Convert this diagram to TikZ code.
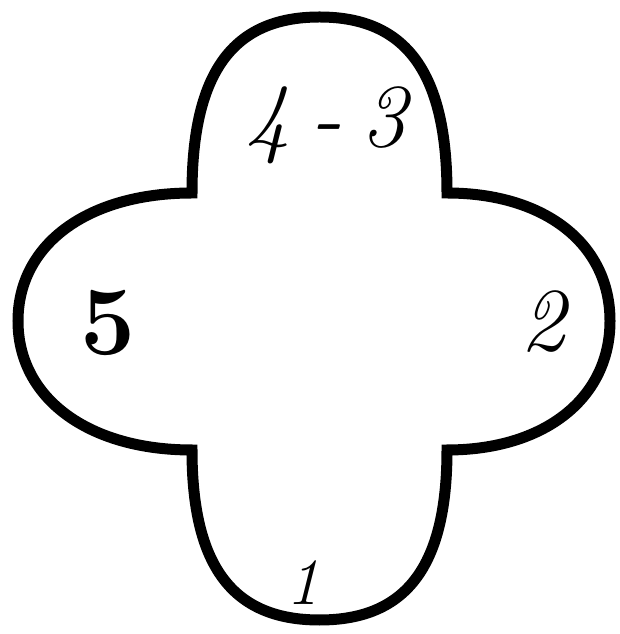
\documentclass[tikz,border=0pt]{standalone}
\usepackage{amsmath}
\usepackage{tikz}

\tikzset{
  lobelabel/.style={inner sep=0pt, font=\fontsize{90}{90}\selectfont\itshape},
}

\begin{document}
\begin{tikzpicture}[x=1pt,y=1pt]
            \useasboundingbox (0,0) rectangle (619,634);

            \coordinate (tl) at (192,441);
            \coordinate (tr) at (447,441);
            \coordinate (br) at (447,184);
            \coordinate (bl) at (192,184);

            \coordinate (top) at (319.5,617);
            \coordinate (right) at (610,313);
            \coordinate (bottom) at (319.5,14);
            \coordinate (left) at (18,313);

            % fuller lobes than plain half ellipses
            \draw[line width=11pt, line join=miter] (tl)
                .. controls +(0,120) and +(-87,0) .. (top)
                .. controls +(87,0) and +(0,120) .. (tr)
                .. controls +(98,0) and +(0,77) .. (right)
                .. controls +(0,-77) and +(98,0) .. (br)
                .. controls +(0,-116) and +(87,0) .. (bottom)
                .. controls +(-87,0) and +(0,-116) .. (bl)
                .. controls +(-104,0) and +(0,-77) .. (left)
                .. controls +(0,77) and +(-104,0) .. (tl)
                -- cycle;

            \node[lobelabel] (l43) at (326,509) {4\kern-12pt{} - \kern-12pt{}3};
            \node[lobelabel, font=\fontsize{98}{98}\selectfont\bfseries] (l5) at (108,311) {5};
            \node[lobelabel] (l2) at (543,312) {2};
            \node[lobelabel, font=\fontsize{66}{66}\selectfont\itshape] (l1) at (303,51) {1};
        \end{tikzpicture}
\end{document}
